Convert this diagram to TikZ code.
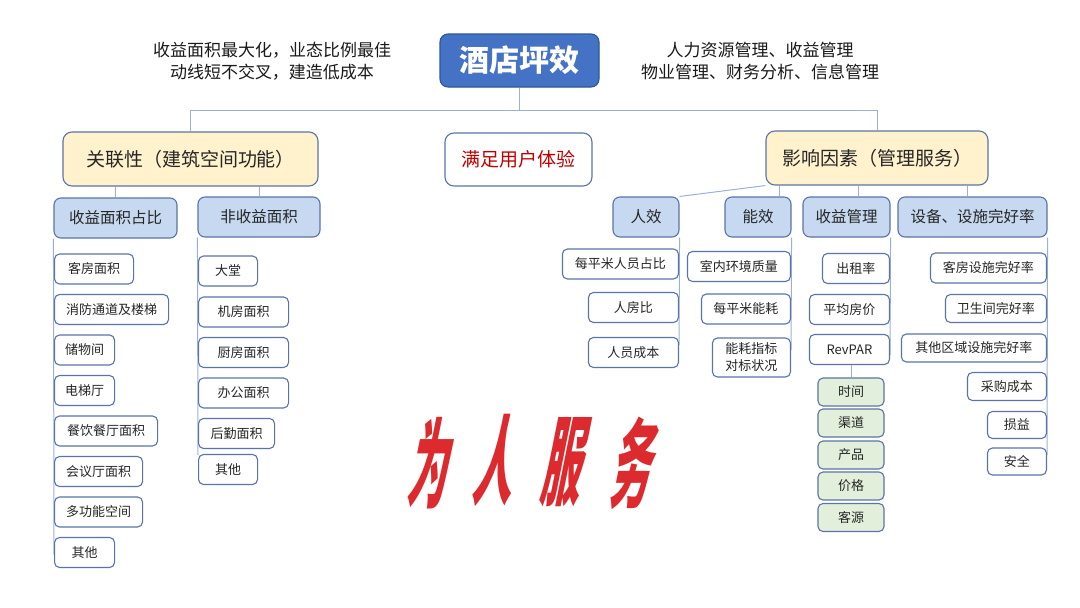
\documentclass[tikz,border=0pt]{standalone}
\usepackage{fontspec}
\setmainfont{Noto Sans CJK SC}
\usepackage{xcolor}
\usetikzlibrary{positioning}

\definecolor{titleblue}{HTML}{4472C4}
\definecolor{titleedge}{HTML}{2F5597}
\definecolor{catfill}{HTML}{FFF2CC}
\definecolor{subfill}{HTML}{C6D9F0}
\definecolor{greenfill}{HTML}{E2EFDA}
\definecolor{boxedge}{HTML}{5B73A8}
\definecolor{linkblue}{HTML}{9BB0D6}
\definecolor{callired}{HTML}{DC2A2E}
\definecolor{darkred}{HTML}{C00000}

\tikzset{
  box/.style={draw=boxedge, line width=1.1pt, inner sep=2pt, text=black!85},
  title/.style={box, fill=titleblue, draw=titleedge, text=white, rounded corners=8pt,
    minimum width=159pt, minimum height=53pt, font=\fontsize{30}{36}\selectfont\bfseries},
  cat/.style={box, fill=catfill, rounded corners=9pt, minimum height=54pt,
    font=\fontsize{19}{23}\selectfont},
  sub/.style={box, fill=subfill, rounded corners=7pt, minimum height=40pt,
    font=\fontsize{15.5}{19}\selectfont},
  leaf/.style={box, fill=white, rounded corners=5pt, minimum height=30pt,
    font=\fontsize{13}{17}\selectfont},
  gleaf/.style={leaf, fill=greenfill, minimum height=28pt, minimum width=66pt},
  note/.style={align=center, font=\fontsize{17}{22}\selectfont, text=black!90},
  link/.style={draw=linkblue, line width=1pt},
  calli/.style={text=callired, inner sep=0pt, font=\fontsize{50}{50}\selectfont\bfseries,
    xslant=0.2, xscale=0.8, yscale=1.95}
}

\begin{document}
\begin{tikzpicture}[x=1pt,y=-1pt]
\useasboundingbox (0,0) rectangle (1080,608);

% top level
\node[title] (hotel) at (519.5,60.5) {酒店坪效};
\node[note] (noteL) at (272,61) {收益面积最大化，业态比例最佳\\动线短不交叉，建造低成本};
\node[note] (noteR) at (760,61) {人力资源管理、收益管理\\物业管理、财务分析、信息管理};

\node[cat, minimum width=255pt] (rel) at (190.5,159) {关联性（建筑空间功能）};
\node[cat, fill=white, text=darkred, minimum width=147pt, minimum height=53pt] (user) at (518.5,159.5) {满足用户体验};
\node[cat, minimum width=222pt] (fac) at (877,158) {影响因素（管理服务）};

\draw[link] (hotel.south) -- ++(0,23) -| (rel.north);
\draw[link] (hotel.south) -- ++(0,23) -| (fac.north);

% left: building space
\node[sub, minimum width=123pt] (syzb) at (115.5,218) {收益面积占比};
\node[sub, minimum width=122pt] (fsy) at (259,217) {非收益面积};
\draw[link] (syzb.north) -- (syzb.north |- rel.south);
\draw[link] (fsy.north) -- (fsy.north |- rel.south);

\draw[link] (syzb.south west) -- (54,555);
\node[leaf, anchor=west, minimum width=79pt] (sy1) at (54,269) {客房面积};
\node[leaf, anchor=west, minimum width=114pt] (sy2) at (54,309.5) {消防通道及楼梯};
\node[leaf, anchor=west, minimum width=60pt] (sy3) at (54,350) {储物间};
\node[leaf, anchor=west, minimum width=60pt] (sy4) at (54,390.5) {电梯厅};
\node[leaf, anchor=west, minimum width=103pt] (sy5) at (54,431) {餐饮餐厅面积};
\node[leaf, anchor=west, minimum width=88pt] (sy6) at (54,471.5) {会议厅面积};
\node[leaf, anchor=west, minimum width=88pt] (sy7) at (54,512) {多功能空间};
\node[leaf, anchor=west, minimum width=60pt] (sy8) at (54,552.5) {其他};

\draw[link] (fsy.south west) -- (198,455);
\node[leaf, anchor=west, minimum width=59pt] (fs1) at (198,271) {大堂};
\node[leaf, anchor=west, minimum width=90pt] (fs2) at (198,312) {机房面积};
\node[leaf, anchor=west, minimum width=90pt] (fs3) at (198,352.5) {厨房面积};
\node[leaf, anchor=west, minimum width=90pt] (fs4) at (198,393) {办公面积};
\node[leaf, anchor=west, minimum width=76pt] (fs5) at (198,433.5) {后勤面积};
\node[leaf, anchor=west, minimum width=59pt] (fs6) at (198,469.5) {其他};

% right: management
\node[sub, minimum width=66pt] (rx) at (646,217) {人效};
\node[sub, minimum width=66pt] (nx) at (758,217) {能效};
\node[sub, minimum width=87pt] (sygl) at (846.5,217) {收益管理};
\node[sub, minimum width=149pt] (sb) at (972.5,217) {设备、设施完好率};
\draw[link] (fac.south west) -- (rx.north east);
\draw[link] ([xshift=21pt]nx.north) -- ([xshift=21pt]nx.north |- fac.south);
\draw[link] ([xshift=11.5pt]sygl.north) -- ([xshift=11.5pt]sygl.north |- fac.south);
\draw[link] ([xshift=-5.5pt]sb.north) -- ([xshift=-5.5pt]sb.north |- fac.south);

\draw[link] (rx.south east) -- (679,345);
\node[leaf, anchor=east, minimum width=116pt] (rx1) at (679,264) {每平米人员占比};
\node[leaf, anchor=east, minimum width=90pt] (rx2) at (679,307.5) {人房比};
\node[leaf, anchor=east, minimum width=90pt] (rx3) at (679,352.5) {人员成本};

\draw[link] (nx.south east) -- (791,350);
\node[leaf, anchor=east, minimum width=103pt] (nx1) at (791,266.5) {室内环境质量};
\node[leaf, anchor=east, minimum width=89pt] (nx2) at (791,309) {每平米能耗};
\node[leaf, anchor=east, minimum width=78pt, minimum height=39pt, align=center] (nx3) at (791,357.5) {能耗指标\\对标状况};

\draw[link] (sygl.south east) -- (890,355);
\node[leaf, anchor=east, minimum width=67pt] (sy01) at (890,268.5) {出租率};
\node[leaf, anchor=east, minimum width=80pt] (sy02) at (890,309.5) {平均房价};
\node[leaf, anchor=east, minimum width=80pt] (rev) at (890,349.5) {RevPAR};

\node[gleaf] (g1) at (851,392) {时间};
\node[gleaf] (g2) at (851,423) {渠道};
\node[gleaf] (g3) at (851,455) {产品};
\node[gleaf] (g4) at (851,486) {价格};
\node[gleaf] (g5) at (851,517.5) {客源};
\draw[link] (rev.south -| g1.north) -- (g1.north);

\draw[link] (sb.south east) -- (1047,455);
\node[leaf, anchor=east, minimum width=116pt] (sb1) at (1047,268) {客房设施完好率};
\node[leaf, anchor=east, minimum width=101pt, minimum height=28pt] (sb2) at (1047,308.5) {卫生间完好率};
\node[leaf, anchor=east, minimum width=145pt, minimum height=28pt] (sb3) at (1047,348) {其他区域设施完好率};
\node[leaf, anchor=east, minimum width=79pt, minimum height=28pt] (sb4) at (1047,386.5) {采购成本};
\node[leaf, anchor=east, minimum width=59pt, minimum height=27pt] (sb5) at (1047,425) {损益};
\node[leaf, anchor=east, minimum width=59pt, minimum height=27pt] (sb6) at (1047,461.5) {安全};

% calligraphy
\node[calli] (c1) at (433,463) {为};
\node[calli] (c2) at (499,460) {人};
\node[calli] (c3) at (567,462) {服};
\node[calli] (c4) at (636,463) {务};
\end{tikzpicture}
\end{document}
